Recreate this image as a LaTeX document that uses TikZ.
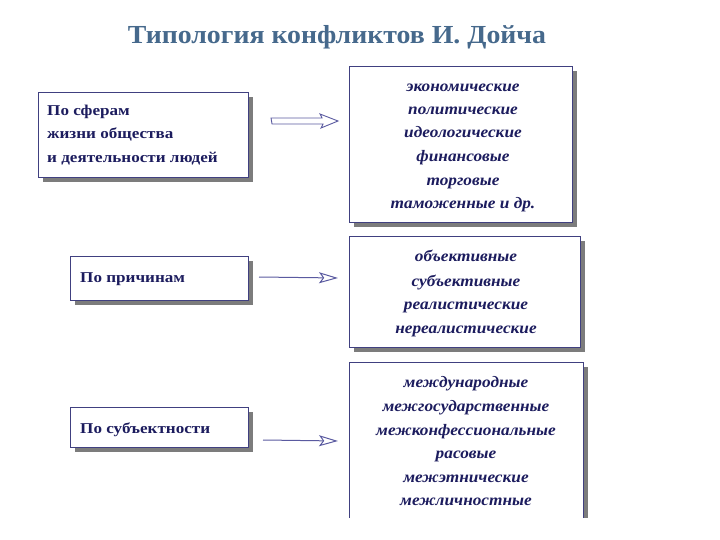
\documentclass[tikz,border=0pt]{standalone}
\usepackage{fontspec}
\setmainfont{Liberation Serif}
\newfontfamily\widefont[FakeStretch=1.14]{Liberation Serif}
\newfontfamily\wideitfont[FakeStretch=1.08]{Liberation Serif}
\newfontfamily\titlefont[FakeStretch=1.07]{Liberation Serif}
\usetikzlibrary{arrows.meta,shadows}
\definecolor{txt}{HTML}{1C1C5E}
\definecolor{bord}{HTML}{404080}
\definecolor{shd}{HTML}{7C7C7C}
\definecolor{ttl}{HTML}{46698C}
\definecolor{arr}{HTML}{5A5AA0}
\tikzset{
  box/.style={draw=bord, fill=white, line width=0.8pt, anchor=north west, inner sep=0pt,
    drop shadow={shadow xshift=5pt, shadow yshift=-5pt, fill=shd, opacity=1}},
  ltext/.style={anchor=base west, inner sep=0pt, text=txt, font=\widefont\fontsize{15}{17}\selectfont\bfseries},
  rtext/.style={anchor=base, inner sep=0pt, text=txt, font=\wideitfont\fontsize{16}{18}\selectfont\bfseries\itshape},
  thinarrow/.style={draw=arr, line width=1pt, -{Stealth[open,length=19pt,width=11pt,inset=4pt]}},
}
\begin{document}
\begin{tikzpicture}[x=1pt,y=-1pt]
\useasboundingbox (0,0) rectangle (720,540);
% title
\node[anchor=base, inner sep=0pt, text=ttl, font=\titlefont\fontsize{26}{29}\selectfont\bfseries] (title) at (337,44) {Типология конфликтов И. Дойча};
% left boxes
\node[box, minimum width=210pt, minimum height=85pt] (L1) at (38,92) {};
\node[ltext] (l1a) at (47,116) {По сферам};
\node[ltext] (l1b) at (47,139) {жизни общества};
\node[ltext] (l1c) at (47,163) {и деятельности людей};
\node[box, minimum width=178pt, minimum height=44pt] (L2) at (70,256) {};
\node[ltext] (l2a) at (80,282) {По причинам};
\node[box, minimum width=178pt, minimum height=40pt] (L3) at (70,407) {};
\node[ltext] (l3a) at (80,433) {По субъектности};
% right boxes
\node[box, minimum width=223pt, minimum height=156pt] (R1) at (349,66) {};
\node[rtext] (r1a) at (463,92) {экономические};
\node[rtext] (r1b) at (463,115) {политические};
\node[rtext] (r1c) at (463,138) {идеологические};
\node[rtext] (r1d) at (463,162) {финансовые};
\node[rtext] (r1e) at (463,186) {торговые};
\node[rtext] (r1f) at (463,209) {таможенные и др.};
\node[box, minimum width=231pt, minimum height=111pt] (R2) at (349,236) {};
\node[rtext] (r2a) at (466,261) {объективные};
\node[rtext] (r2b) at (466,286) {субъективные};
\node[rtext] (r2c) at (466,309) {реалистические};
\node[rtext] (r2d) at (466,333) {нереалистические};
% third right box, open at the bottom
\fill[shd] (354,367) rectangle (588,518);
\fill[white] (349,362) rectangle (583,518);
\draw[bord, line width=0.8pt] (349,518) -- (349,362) -- (583,362) -- (583,518);
\coordinate (R3) at (349,440);
\node[rtext] (r3a) at (466,387) {международные};
\node[rtext] (r3b) at (466,411) {межгосударственные};
\node[rtext] (r3c) at (466,435) {межконфессиональные};
\node[rtext] (r3d) at (466,458) {расовые};
\node[rtext] (r3e) at (466,482) {межэтнические};
\node[rtext] (r3f) at (466,505) {межличностные};
% arrows
\coordinate (a1s) at (271,121);
\coordinate (a1e) at (338,121);
\draw[arr, line width=0.9pt, fill=white, line join=miter]
  (a1s) ++(0,-3) -- ++(51,0) -- ++(-2,-4) -- (a1e) -- ++(-17,7) -- ++(2,-4) -- ++(-51,0) -- cycle;
\coordinate (a2s) at (259,277);
\coordinate (a2e) at (338,278);
\draw[thinarrow] (a2s) -- (a2e);
\coordinate (a3s) at (263,440);
\coordinate (a3e) at (338,441);
\draw[thinarrow] (a3s) -- (a3e);
\end{tikzpicture}
\end{document}
